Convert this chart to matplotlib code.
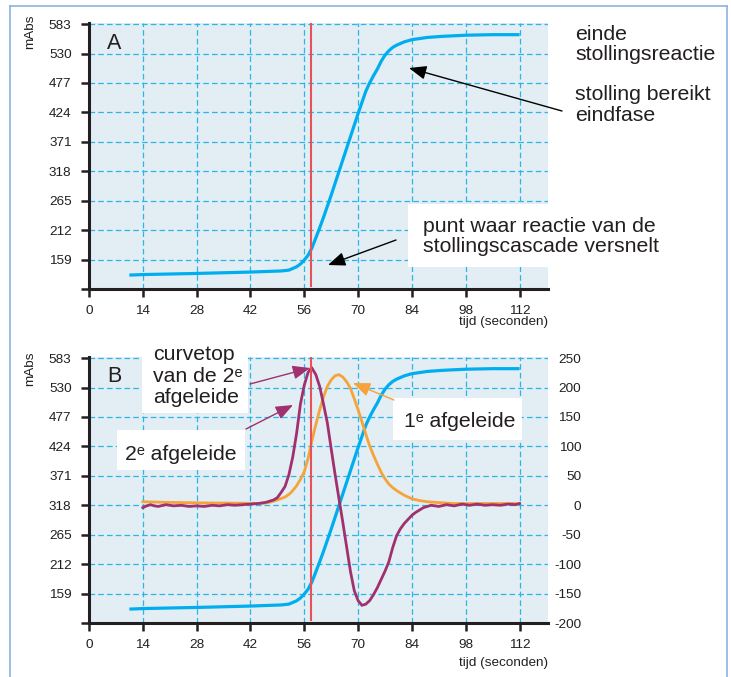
import numpy as np
import matplotlib
matplotlib.use("Agg")
import matplotlib.pyplot as plt
from matplotlib.patches import Rectangle, FancyArrowPatch
from matplotlib.lines import Line2D

plt.rcParams['font.family'] = ['Liberation Sans', 'DejaVu Sans']
plt.rcParams['axes.unicode_minus'] = False

# extinctie (mAbs) tegen tijd (s)
t_abs = [10.5, 14, 28, 42, 50, 52, 54, 55, 56, 57, 58, 59, 60, 61, 62, 63, 64, 65, 66, 67,
         68, 69, 70, 71, 72, 73, 74, 75, 76, 77, 78, 79, 80, 82, 84, 88, 92, 98, 105, 112]
mabs = [131, 132, 134, 136.5, 138.5, 140, 146, 151, 158, 167, 180, 198, 216, 235, 255, 275,
        296, 317, 338, 359, 380, 401, 422, 442, 462, 477, 490, 502, 516, 527, 535, 541, 545,
        551, 555, 559, 561, 563, 564, 564]

# 1e afgeleide (rechter as)
t_d1 = [14, 20, 30, 40, 45, 47, 49, 51, 52.3, 53, 54, 55, 56, 57, 58, 59, 60, 61, 62, 63,
        64, 65, 66, 67, 68, 69, 70, 71, 72, 73, 74, 75, 76, 77, 78, 79, 80, 81, 82, 83,
        84, 86, 88, 90, 95, 100, 112]
d1 = [6, 5, 4, 3.5, 3, 5, 9, 14, 20, 25, 33, 44, 57, 80, 110, 137, 162, 184, 202, 213,
      220, 222, 218, 210, 199, 181, 162, 142, 121, 101, 85, 70, 56, 45, 36, 30, 25, 21, 17, 14,
      11, 8, 6, 5, 3, 3, 3]

# 2e afgeleide (rechter as)
t_d2 = [14, 15, 16, 17, 18, 20, 22, 24, 26, 28, 30, 32, 34, 36, 38, 40, 42, 44, 46, 48, 49,
        50, 51, 52, 53, 54, 55, 56, 57, 57.9, 59, 60, 61, 62, 63, 64, 65, 66, 67, 68, 69, 70,
        71, 72, 73, 74, 75, 76, 77, 78, 79, 80, 81, 82, 83, 84, 85, 86, 87, 88, 89, 91, 93,
        95, 97, 99, 101, 103, 105, 107, 109, 111, 112]
d2 = [-4, -1, 1, -1, -2, 1, -1, 0, -2, -1, -2, 0, -1, 1, 0, 1, 2, 3, 5, 9, 13,
      22, 32, 52, 82, 122, 172, 204, 226, 234, 222, 202, 172, 140, 96, 53, 12, -28, -70, -112, -145, -162,
      -170, -168, -162, -152, -140, -126, -112, -96, -72, -52, -40, -31, -24, -17, -12, -8, -4, -2, 0, -2, 1,
      -1, 2, 0, 2, 0, 1, 0, 2, 1, 3]

x_ticks = [0, 14, 28, 42, 56, 70, 84, 98, 112]
y_ticks = [106, 159, 212, 265, 318, 371, 424, 477, 530, 583]
y_labels = ['', '159', '212', '265', '318', '371', '424', '477', '530', '583']
d_ticks = [-200, -150, -100, -50, 0, 50, 100, 150, 200, 250]
t_mark = 57.8

W, H = 731, 677
C_BLUE = '#00aeef'
C_PURPLE = '#a0306e'
C_ORANGE = '#f5a33a'
C_RED = '#e8505a'
C_GRID = '#2bb5e9'
C_BG = '#e2eef3'
C_TXT = '#231f20'
TICK_FS = 9.7


def fx(x):
    return x / W


def fy(y):
    return 1 - y / H


fig = plt.figure(figsize=(W / 100, H / 100), dpi=100)

# lichtblauw kader
for xs, ys in [([10, 10], [6, H + 5]), ([10, 727], [6, 6]), ([727, 727], [6, H + 5])]:
    fig.add_artist(Line2D([fx(v) for v in xs], [fy(v) for v in ys], color='#8db1e1', lw=1.2))

ylo, yhi = 106, 585
xlo, xhi = 0, 119.4


def base_axes(top, bottom):
    ax = fig.add_axes([fx(89), fy(bottom), (548 - 89) / W, (bottom - top) / H])
    ax.set_facecolor(C_BG)
    ax.set_xlim(xlo, xhi)
    ax.set_ylim(ylo, yhi)
    for s in ['top', 'right']:
        ax.spines[s].set_visible(False)
    for s in ['left', 'bottom']:
        ax.spines[s].set_linewidth(2.2)
        ax.spines[s].set_color(C_TXT)
    ax.set_xticks(x_ticks)
    ax.set_yticks(y_ticks)
    ax.set_yticklabels(y_labels)
    ax.tick_params(axis='both', direction='out', length=5.5, width=1.8, color=C_TXT,
                   labelsize=TICK_FS, labelcolor=C_TXT)
    ax.tick_params(axis='x', pad=6)
    ax.tick_params(axis='y', pad=7)
    ax.grid(True, color=C_GRID, lw=0.9, ls=(0, (4.5, 2.5)))
    ax.set_axisbelow(True)
    ax.plot(t_abs, mabs, color=C_BLUE, lw=2.3, solid_capstyle='butt', zorder=3)
    return ax


# ---------- A ----------
axA = base_axes(23, 289)
axA.axvline(t_mark, ymin=0.01, ymax=1, color=C_RED, lw=1.5, zorder=4)
axA.text(0.039, 0.902, 'A', transform=axA.transAxes, fontsize=15.5, color=C_TXT)

# ---------- B ----------
axB = base_axes(357, 623)
k = 450 / 477
axR = axB.twinx()
axR.set_ylim((ylo - 318) * k, (yhi - 318) * k)
axR.set_yticks(d_ticks)
for s in axR.spines.values():
    s.set_visible(False)
axR.tick_params(axis='y', length=0, pad=23.8, labelsize=TICK_FS, labelcolor=C_TXT)
for lab in axR.get_yticklabels():
    lab.set_horizontalalignment('right')
axR.plot(t_d1, d1, color=C_ORANGE, lw=2.0, zorder=3)
axR.plot(t_d2, d2, color=C_PURPLE, lw=2.0, zorder=3)
axR.axvline(t_mark, ymin=0.01, ymax=1, color=C_RED, lw=1.5, zorder=4)
axB.text(0.039, 0.906, 'B', transform=axB.transAxes, fontsize=15.5, color=C_TXT)

# as-teksten
for yc in [32, 369]:
    fig.text(fx(30), fy(yc), 'mAbs', rotation=90, ha='center', va='center', fontsize=TICK_FS, color=C_TXT)
for yc in [322, 663]:
    fig.text(fx(548), fy(yc), 'tijd (seconden)', ha='right', va='center', fontsize=TICK_FS, color=C_TXT)


def box(x0, y0, x1, y1):
    fig.add_artist(Rectangle((fx(x0), fy(y1)), (x1 - x0) / W, (y1 - y0) / H,
                             transform=fig.transFigure, fc='white', ec='none', zorder=5))


def label(x, y_last, s, ls=1.1):
    # y_last: basislijn van de laatste regel
    fig.text(fx(x), fy(y_last), s, ha='left', va='baseline', fontsize=15.3, color=C_TXT,
             linespacing=ls, zorder=6)


def arrow(x0, y0, x1, y1, color):
    fig.add_artist(FancyArrowPatch((fx(x0), fy(y0)), (fx(x1), fy(y1)), transform=fig.transFigure,
                                   arrowstyle='-|>,head_length=0.75,head_width=0.3',
                                   mutation_scale=14, color=color, lw=1.0, zorder=6,
                                   shrinkA=0, shrinkB=0))


# annotaties A
label(575, 60, 'einde\nstollingsreactie', ls=1.05)
label(575, 121, 'stolling bereikt\neindfase')
arrow(562, 111, 409, 68, 'black')
box(408, 204, 665, 267)
label(423, 252, 'punt waar reactie van de\nstollingscascade versnelt')
arrow(396, 240, 328, 265, 'black')

# annotaties B
box(142, 333, 248, 413)
label(153, 403, 'curvetop\nvan de 2ᵉ\nafgeleide', ls=1.15)
arrow(250, 384, 310, 368, C_PURPLE)
box(117, 430, 245, 470)
label(125, 460, '2ᵉ afgeleide')
arrow(246, 429, 293, 405, C_PURPLE)
box(393, 398, 522, 440)
label(404, 427, '1ᵉ afgeleide')
arrow(394, 400, 353, 383, C_ORANGE)

fig.savefig('out.png', dpi=100)
